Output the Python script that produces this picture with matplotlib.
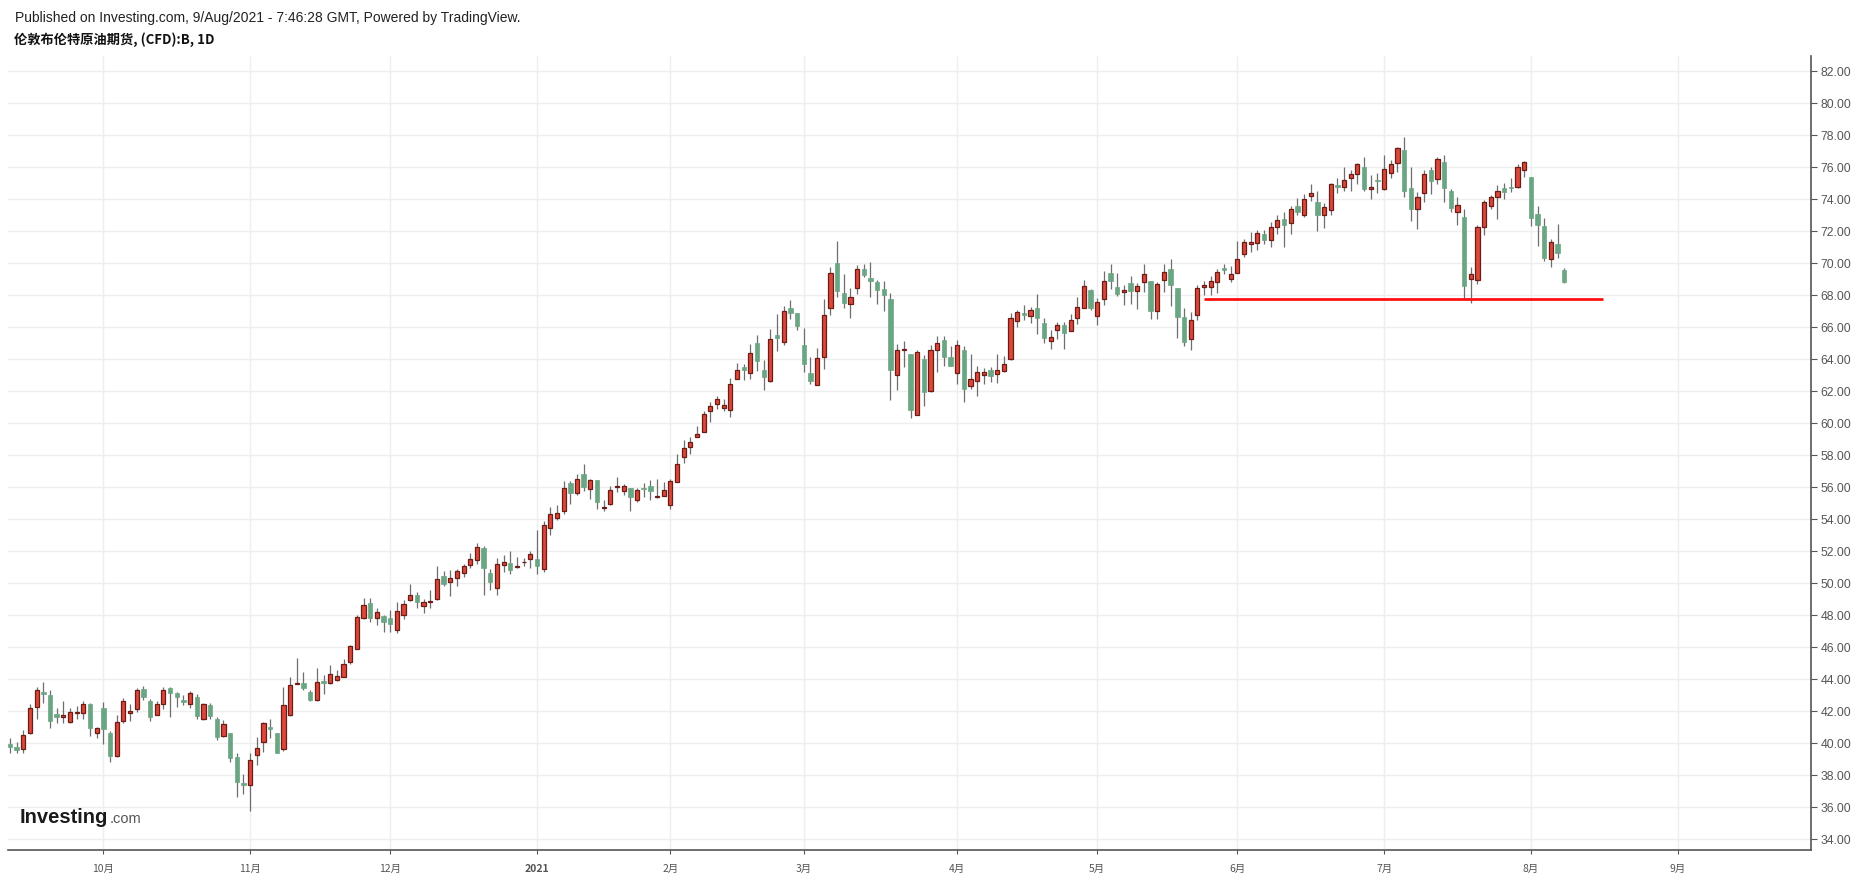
import numpy as np
import pandas as pd
import matplotlib.pyplot as plt

OUTPUT_FILE = "out.png"

# trading calendar used by the chart (weekdays minus exchange holidays)
FIRST_DAY = "2020-09-11"
LAST_DAY = "2021-10-01"
HOLIDAYS = ["2020-12-25", "2021-01-01", "2021-04-02"]

# daily OHLC, 2020-09-11 .. 2021-08-09
OPEN = [39.94, 39.77, 39.67, 40.67, 42.29, 43.21, 43.02, 41.83, 41.67, 41.35,
        41.88, 41.88, 42.46, 40.63, 42.19, 40.63, 39.19, 41.40, 41.88, 42.13,
        43.38, 42.65, 41.79, 42.44, 43.48, 43.17, 42.71, 42.44, 42.90, 41.54,
        42.38, 41.52, 40.48, 40.63, 39.13, 37.50, 37.38, 39.25, 40.10, 41.00,
        40.63, 39.63, 41.75, 43.71, 43.75, 43.19, 42.69, 43.88, 43.77, 43.98,
        44.15, 45.08, 45.90, 47.81, 48.79, 47.83, 47.98, 47.83, 47.08, 48.00,
        48.94, 49.27, 48.58, 48.81, 49.00, 50.48, 50.06, 50.33, 50.65, 51.15,
        51.46, 52.23, 50.67, 49.69, 51.13, 51.27, 51.00, 51.31, 51.52, 51.54,
        50.90, 53.46, 54.08, 54.52, 56.27, 55.65, 56.83, 55.90, 56.44, 54.71,
        54.98, 56.02, 55.79, 55.98, 55.23, 55.94, 56.06, 55.40, 55.48, 54.92,
        56.35, 57.88, 58.54, 59.17, 59.44, 60.79, 61.19, 60.98, 60.81, 62.79,
        63.52, 63.13, 65.00, 63.33, 62.67, 65.50, 65.06, 67.19, 66.88, 64.88,
        63.13, 62.38, 64.15, 67.21, 70.02, 68.15, 67.46, 68.46, 69.65, 69.08,
        68.85, 68.40, 67.79, 63.02, 64.56, 64.35, 60.52, 64.04, 62.02, 64.58,
        65.21, 64.15, 63.15, 64.60, 62.35, 62.65, 63.02, 63.33, 63.10, 63.25,
        64.02, 66.38, 66.90, 66.71, 67.21, 66.27, 65.15, 65.83, 66.15, 65.77,
        66.58, 67.21, 68.33, 66.69, 67.75, 69.42, 68.52, 68.23, 68.77, 68.29,
        68.81, 68.90, 67.00, 68.94, 69.65, 68.46, 66.63, 65.25, 66.75, 68.50,
        68.54, 68.81, 69.69, 69.00, 69.38, 70.56, 71.23, 71.25, 71.83, 71.46,
        72.30, 72.80, 72.50, 73.60, 73.04, 74.23, 73.83, 73.00, 73.31, 74.88,
        74.75, 75.31, 75.56, 76.00, 74.67, 75.21, 74.67, 75.63, 76.25, 77.08,
        74.69, 73.38, 74.38, 75.83, 75.25, 76.33, 74.52, 73.19, 72.88, 69.00,
        68.94, 72.25, 73.58, 74.13, 74.69, 74.77, 74.75, 75.83, 75.38, 73.08,
        72.33, 70.25, 71.21, 69.58]
HIGH = [40.31, 40.06, 40.83, 42.46, 43.54, 43.83, 43.33, 42.19, 42.67, 42.19,
        42.33, 42.65, 42.54, 41.00, 42.58, 40.75, 41.75, 42.81, 42.44, 43.48,
        43.58, 42.75, 42.65, 43.54, 43.54, 43.23, 43.02, 43.27, 43.06, 42.54,
        42.54, 41.63, 41.46, 40.63, 39.42, 38.06, 39.42, 40.42, 41.35, 41.52,
        40.67, 43.50, 44.13, 45.31, 44.48, 43.33, 44.69, 44.27, 44.92, 44.60,
        45.29, 46.17, 48.04, 49.08, 49.08, 48.46, 48.04, 48.35, 48.81, 48.98,
        49.98, 49.48, 49.04, 49.60, 51.10, 50.79, 50.85, 50.92, 51.21, 51.90,
        52.52, 52.35, 50.90, 51.58, 51.79, 52.04, 51.67, 51.58, 52.00, 53.31,
        53.88, 54.77, 54.88, 56.38, 56.38, 56.83, 57.44, 56.54, 56.48, 55.19,
        56.08, 56.63, 56.23, 55.98, 55.98, 56.29, 56.48, 56.54, 56.35, 56.54,
        58.08, 58.96, 59.17, 59.83, 60.77, 61.33, 61.73, 61.52, 62.81, 63.75,
        63.69, 64.96, 65.52, 63.96, 65.88, 66.83, 67.33, 67.73, 66.88, 65.94,
        64.13, 64.69, 67.79, 69.75, 71.42, 69.35, 68.46, 69.92, 69.98, 70.10,
        68.98, 68.92, 68.15, 64.98, 65.17, 64.35, 64.60, 64.25, 64.92, 65.48,
        65.48, 64.85, 65.23, 64.85, 64.35, 63.60, 63.48, 63.54, 64.35, 64.23,
        66.92, 67.10, 67.42, 67.27, 68.10, 66.56, 65.85, 66.35, 66.31, 66.85,
        67.92, 68.96, 68.40, 67.81, 69.52, 69.96, 69.38, 68.65, 69.21, 68.79,
        69.96, 68.90, 68.85, 69.96, 70.27, 68.46, 67.19, 66.96, 68.65, 68.90,
        69.21, 69.65, 69.98, 69.83, 71.40, 71.50, 71.98, 72.10, 72.10, 72.60,
        73.00, 73.20, 73.60, 74.10, 74.33, 74.96, 74.52, 73.75, 75.00, 75.31,
        76.00, 75.83, 76.29, 76.65, 75.52, 75.65, 76.77, 76.46, 77.29, 77.92,
        76.04, 74.48, 75.83, 76.00, 76.65, 76.77, 74.63, 74.13, 73.40, 69.79,
        72.40, 73.96, 74.25, 74.90, 75.04, 75.31, 76.21, 76.40, 75.38, 73.58,
        72.83, 71.52, 72.46, 69.71]
LOW = [39.42, 39.37, 39.42, 40.58, 41.54, 42.54, 40.98, 41.25, 41.25, 41.25,
       41.54, 41.54, 40.48, 40.35, 39.98, 38.85, 39.17, 41.25, 41.40, 41.94,
       42.71, 41.40, 41.75, 42.17, 41.63, 42.29, 42.40, 42.23, 41.50, 41.46,
       41.54, 40.21, 40.42, 38.81, 36.67, 36.83, 35.79, 38.65, 39.48, 40.35,
       39.38, 39.52, 41.71, 43.69, 43.33, 42.65, 42.65, 43.10, 43.71, 43.88,
       44.15, 44.98, 45.90, 47.77, 47.56, 47.38, 46.94, 46.94, 46.88, 47.77,
       48.88, 48.44, 48.13, 48.44, 48.94, 49.81, 49.19, 49.81, 50.40, 50.94,
       51.21, 49.25, 49.60, 49.25, 50.69, 50.56, 50.94, 51.10, 50.94, 50.60,
       50.71, 53.00, 53.94, 54.31, 54.98, 55.50, 55.77, 55.25, 54.63, 54.52,
       54.90, 55.71, 55.50, 54.52, 55.08, 55.40, 55.19, 55.35, 55.44, 54.63,
       56.33, 57.54, 58.08, 59.13, 59.44, 60.10, 60.90, 60.79, 60.42, 62.79,
       62.71, 62.79, 63.29, 62.08, 62.60, 64.54, 64.88, 66.52, 65.81, 63.23,
       62.44, 62.38, 63.40, 66.75, 67.90, 67.19, 66.56, 68.06, 69.13, 67.88,
       67.46, 67.00, 61.48, 62.10, 63.50, 60.31, 60.52, 61.06, 61.94, 63.19,
       63.56, 63.56, 62.46, 61.31, 62.15, 61.69, 62.44, 62.60, 62.50, 63.21,
       63.94, 66.00, 66.48, 66.25, 65.56, 65.00, 64.63, 65.27, 64.63, 65.77,
       66.21, 67.21, 67.08, 66.17, 67.42, 68.42, 67.98, 67.42, 67.48, 67.17,
       68.23, 66.54, 66.54, 68.23, 67.33, 65.35, 64.83, 64.60, 66.48, 68.02,
       68.02, 68.17, 69.31, 68.81, 69.38, 70.42, 70.73, 70.83, 71.21, 71.00,
       71.85, 71.00, 71.85, 73.00, 72.88, 73.92, 72.04, 72.23, 73.04, 74.38,
       74.54, 74.54, 74.96, 74.54, 74.00, 74.42, 74.58, 75.31, 75.73, 74.17,
       72.67, 72.17, 73.85, 74.31, 74.96, 73.85, 73.23, 72.42, 67.79, 67.50,
       68.69, 71.77, 73.40, 72.79, 74.04, 74.48, 74.69, 75.42, 72.35, 71.10,
       70.17, 69.79, 70.35, 68.77]
CLOSE = [39.79, 39.60, 40.50, 42.19, 43.31, 43.10, 41.42, 41.67, 41.75, 41.96,
         41.96, 42.46, 40.98, 40.94, 40.92, 39.21, 41.31, 42.63, 42.02, 43.31,
         42.88, 41.67, 42.44, 43.31, 43.13, 42.92, 42.60, 43.13, 41.71, 42.44,
         41.73, 40.42, 41.19, 39.10, 37.60, 37.42, 38.94, 39.69, 41.25, 40.90,
         39.38, 42.38, 43.63, 43.79, 43.48, 42.71, 43.81, 43.75, 44.33, 44.21,
         44.96, 46.08, 47.90, 48.65, 47.81, 48.21, 47.56, 47.44, 48.27, 48.71,
         49.27, 48.81, 48.83, 48.90, 50.27, 49.94, 50.33, 50.77, 51.08, 51.52,
         52.27, 50.94, 50.06, 51.21, 51.33, 50.85, 51.10, 51.35, 51.83, 51.06,
         53.63, 54.31, 54.38, 55.98, 55.65, 56.54, 56.02, 56.44, 55.08, 54.75,
         55.85, 56.06, 56.10, 55.40, 55.85, 55.90, 55.77, 55.48, 55.85, 56.38,
         57.46, 58.46, 58.83, 59.33, 60.56, 61.06, 61.52, 61.13, 62.44, 63.31,
         63.33, 64.38, 63.92, 62.92, 65.25, 65.35, 67.04, 66.88, 66.10, 63.69,
         62.67, 64.06, 66.77, 69.40, 68.25, 67.52, 67.90, 69.65, 69.25, 68.88,
         68.35, 68.00, 63.31, 64.58, 64.65, 60.81, 64.44, 61.94, 64.58, 65.02,
         64.15, 63.56, 64.90, 62.13, 62.77, 63.21, 63.21, 62.94, 63.33, 63.71,
         66.56, 66.94, 66.75, 67.08, 66.56, 65.31, 65.40, 66.15, 65.63, 66.46,
         67.27, 68.58, 67.23, 67.58, 68.90, 68.90, 68.10, 68.33, 68.27, 68.56,
         69.33, 67.04, 68.69, 69.44, 68.67, 66.67, 65.10, 66.46, 68.44, 68.63,
         68.88, 69.44, 69.60, 69.33, 70.25, 71.35, 71.33, 71.88, 71.48, 72.30,
         72.70, 72.40, 73.40, 73.20, 74.00, 74.38, 73.04, 73.50, 74.94, 74.79,
         75.19, 75.56, 76.19, 74.67, 74.75, 75.13, 75.88, 76.19, 77.19, 74.54,
         73.42, 74.13, 75.58, 75.17, 76.50, 74.73, 73.48, 73.63, 68.60, 69.35,
         72.25, 73.81, 74.13, 74.50, 74.48, 74.73, 76.04, 76.31, 72.85, 72.42,
         70.35, 71.31, 70.67, 68.83]

MONTH_STARTS = ["2020-10-01", "2020-11-02", "2020-12-01", "2021-01-04",
                "2021-02-01", "2021-03-01", "2021-04-01", "2021-05-03",
                "2021-06-01", "2021-07-01", "2021-08-02", "2021-09-01"]
MONTH_LABELS = ["10月", "11月", "12月", "2021", "2月", "3月", "4月", "5月",
                "6月", "7月", "8月", "9月"]

PRICE_TICKS = list(range(34, 84, 2))

SUPPORT_LEVEL = 67.8
SUPPORT_FROM = "2021-05-25"
SUPPORT_TO = "2021-08-17"

UP_COLOR = '#d9483a'
UP_EDGE = '#6b1c16'
DOWN_COLOR = '#6aa683'
WICK_COLOR = '#6e6e6e'
GRID_COLOR = '#eeeeee'
AXIS_COLOR = '#555555'

W, H = 1857, 882


def main():
    days = pd.bdate_range(FIRST_DAY, LAST_DAY).drop(pd.to_datetime(HOLIDAYS))
    o = np.array(OPEN)
    h = np.array(HIGH)
    l = np.array(LOW)
    c = np.array(CLOSE)
    x = np.arange(len(o))
    up = c >= o

    fig = plt.figure(figsize=(W / 100, H / 100), dpi=100)
    ax = fig.add_axes([8 / W, 1 - 850 / H, (1811 - 8) / W, (850 - 56) / H])

    # wicks
    ax.vlines(x, l, h, color=WICK_COLOR, linewidth=0.9, zorder=2)

    # bodies
    body_low = np.minimum(o, c)
    body_h = np.maximum(np.abs(c - o), 0.05)
    ax.bar(x[up], body_h[up], bottom=body_low[up], width=0.62,
           color=UP_COLOR, edgecolor=UP_EDGE, linewidth=0.9, zorder=3)
    ax.bar(x[~up], body_h[~up], bottom=body_low[~up], width=0.66,
           color=DOWN_COLOR, edgecolor=DOWN_COLOR, linewidth=0.5, zorder=3)

    # support line
    x0 = days.get_loc(pd.Timestamp(SUPPORT_FROM))
    x1 = days.get_loc(pd.Timestamp(SUPPORT_TO)) - 0.2
    ax.plot([x0, x1], [SUPPORT_LEVEL, SUPPORT_LEVEL], color='#ff1010',
            linewidth=2.0, solid_capstyle='butt', zorder=4)

    month_pos = days.get_indexer(pd.to_datetime(MONTH_STARTS))
    ax.set_xticks(month_pos)
    ax.set_xticklabels(MONTH_LABELS, fontsize=7.5, color=AXIS_COLOR,
                       family=['Noto Sans CJK SC', 'DejaVu Sans'])
    for lab in ax.get_xticklabels():
        if lab.get_text() == "2021":
            lab.set_fontweight('bold')

    ax.set_yticks(PRICE_TICKS)
    ax.set_yticklabels([f"{v:.2f}" for v in PRICE_TICKS], fontsize=8.7,
                       color=AXIS_COLOR, family='Liberation Sans')
    ax.yaxis.tick_right()

    ax.set_xlim(-0.3, 270.0)
    ax.set_ylim(33.33, 82.96)

    ax.grid(True, color=GRID_COLOR, linewidth=1.0, zorder=0)
    ax.set_axisbelow(True)

    for side in ['top', 'left']:
        ax.spines[side].set_visible(False)
    ax.spines['right'].set_color(AXIS_COLOR)
    ax.spines['bottom'].set_color(AXIS_COLOR)
    ax.spines['right'].set_linewidth(1.2)
    ax.spines['bottom'].set_linewidth(1.2)
    ax.tick_params(axis='y', direction='out', length=4, width=0.8,
                   color=AXIS_COLOR, pad=3)
    ax.tick_params(axis='x', direction='out', length=3, width=0.8,
                   color=AXIS_COLOR, pad=7)

    # header
    fig.text(15 / W, 1 - 18 / H,
             "Published on Investing.com, 9/Aug/2021 - 7:46:28 GMT, Powered by TradingView.",
             fontsize=10.0, color='#222222', family='Liberation Sans', va='center')
    fig.text(14 / W, 1 - 40 / H, "伦敦布伦特原油期货, (CFD):B, 1D",
             fontsize=9.5, fontweight='bold', color='#111111', va='center',
             family=['Noto Sans CJK SC', 'DejaVu Sans'])

    # watermark
    fig.text(20 / W, 1 - 823 / H, "Investing", fontsize=14.5, fontweight='bold',
             color='#1a1a1a', family='Liberation Sans', va='baseline')
    fig.text(110 / W, 1 - 823 / H, ".com", fontsize=10.5,
             color='#555555', family='Liberation Sans', va='baseline')

    fig.savefig(OUTPUT_FILE, dpi=100)
    plt.close(fig)


if __name__ == "__main__":
    main()
